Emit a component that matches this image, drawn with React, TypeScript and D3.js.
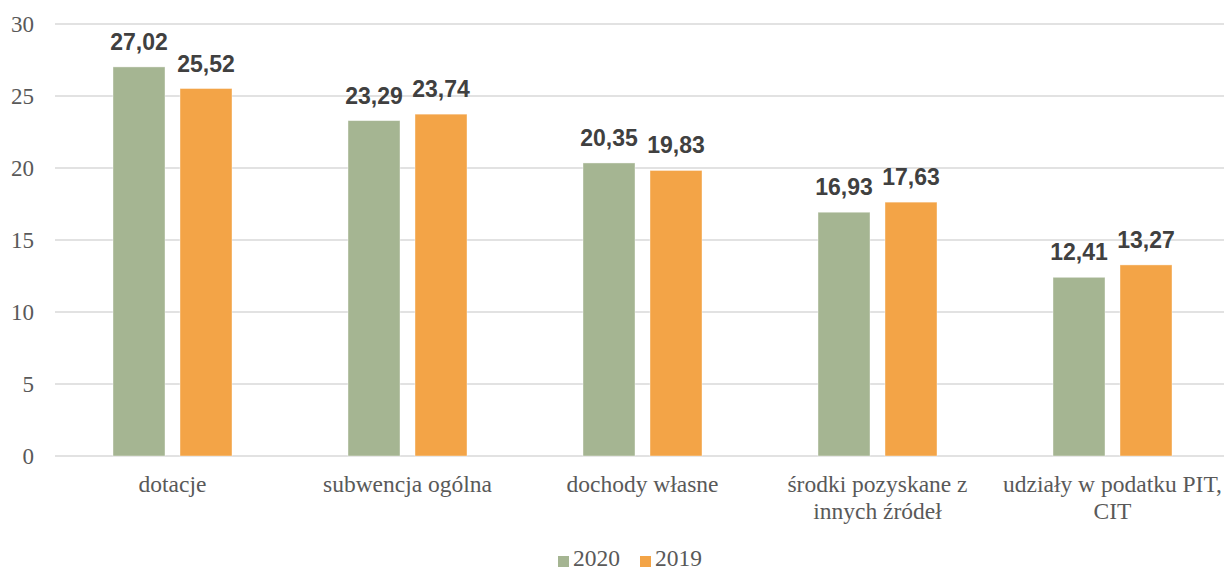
import React from "react";
import * as d3 from "d3";

const categories: string[][] = [
  ["dotacje"],
  ["subwencja ogólna"],
  ["dochody własne"],
  ["środki pozyskane z", "innych źródeł"],
  ["udziały w podatku PIT,", "CIT"],
];
const values2020 = [27.02, 23.29, 20.35, 16.93, 12.41];
const values2019 = [25.52, 23.74, 19.83, 17.63, 13.27];
const seriesNames = ["2020", "2019"];
const seriesColors = ["#A5B592", "#F3A447"];
const yTicks = [0, 5, 10, 15, 20, 25, 30];

const W = 1224;
const H = 572;

export default function App() {
  const x0 = d3
    .scaleBand<number>()
    .domain(categories.map((_, i) => i))
    .range([55, 1230])
    .paddingInner(0)
    .paddingOuter(0);
  const y = d3.scaleLinear().domain([0, 30]).range([456, 24]);
  const bw = x0.bandwidth();
  const barW = 52;
  const gap = 15;
  const series = [values2020, values2019];
  const fmt = (v: number) => v.toFixed(2).replace(".", ",");

  return (
    <svg
      width={W}
      height={H}
      style={{ position: "absolute", left: 0, top: 0, background: "#fff" }}
    >
      {yTicks.map((t) => (
        <g key={t}>
          <line
            x1={55}
            x2={1224}
            y1={y(t)}
            y2={y(t)}
            stroke="#D9D9D9"
            strokeWidth={t === 0 ? 1.5 : 1.3}
          />
          <text
            x={34}
            y={y(t)}
            dy="0.35em"
            textAnchor="end"
            fontFamily="'Liberation Serif', 'Times New Roman', serif"
            fontSize={23}
            fill="#595959"
          >
            {t}
          </text>
        </g>
      ))}
      {categories.map((cat, i) => {
        const cx = (x0(i) as number) + bw / 2;
        return (
          <g key={i}>
            {series.map((vals, s) => {
              const bx = s === 0 ? cx - gap / 2 - barW : cx + gap / 2;
              const v = vals[i];
              return (
                <g key={s}>
                  <rect
                    x={bx}
                    y={y(v)}
                    width={barW}
                    height={y(0) - y(v)}
                    fill={seriesColors[s]}
                    stroke="#fff"
                    strokeOpacity={0.5}
                    strokeWidth={0.8}
                  />
                  <text
                    x={bx + barW / 2}
                    y={y(v) - 17}
                    textAnchor="middle"
                    fontFamily="'Liberation Sans', Arial, sans-serif"
                    fontWeight="bold"
                    fontSize={23}
                    fill="#404040"
                  >
                    {fmt(v)}
                  </text>
                </g>
              );
            })}
            {cat.map((line, li) => (
              <text
                key={li}
                x={cx}
                y={492 + li * 27}
                textAnchor="middle"
                fontFamily="'Liberation Serif', 'Times New Roman', serif"
                fontSize={23.5}
                fill="#595959"
              >
                {line}
              </text>
            ))}
          </g>
        );
      })}
      {seriesNames.map((n, s) => {
        const lx = s === 0 ? 558 : 640;
        return (
          <g key={n}>
            <rect x={lx} y={556} width={11} height={11} fill={seriesColors[s]} />
            <text
              x={lx + 15}
              y={566}
              fontFamily="'Liberation Serif', 'Times New Roman', serif"
              fontSize={23.5}
              fill="#595959"
            >
              {n}
            </text>
          </g>
        );
      })}
    </svg>
  );
}
